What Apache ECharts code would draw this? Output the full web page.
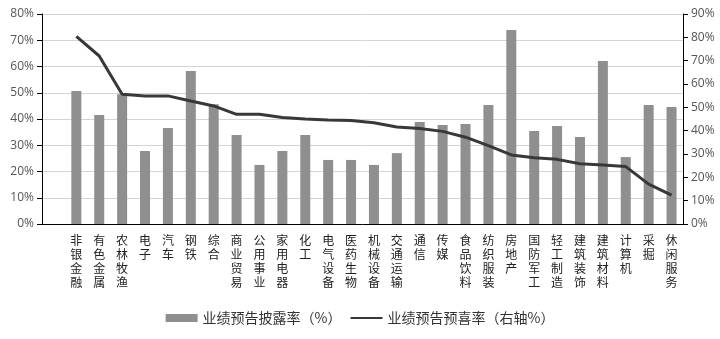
<!DOCTYPE html>
<html>
<head>
<meta charset="utf-8">
<script src="https://cdn.jsdelivr.net/npm/echarts@6/dist/echarts.min.js"></script>
<style>
  html, body { margin: 0; padding: 0; background: #fff; }
  #chart { width: 720px; height: 339px; }
</style>
</head>
<body>
<div id="chart"></div>
<script>
// Industry names (a blank slot leads the axis)
const categories = ['', '非银金融', '有色金属', '农林牧渔', '电子', '汽车', '钢铁', '综合', '商业贸易', '公用事业',
  '家用电器', '化工', '电气设备', '医药生物', '机械设备', '交通运输', '通信', '传媒', '食品饮料',
  '纺织服装', '房地产', '国防军工', '轻工制造', '建筑装饰', '建筑材料', '计算机', '采掘', '休闲服务'];

// 业绩预告披露率 (%), left axis
const disclosureRate = [null, 50.7, 41.5, 49.4, 27.8, 36.6, 58.3, 45.6, 33.9, 22.5,
  27.8, 33.9, 24.4, 24.4, 22.5, 27.0, 38.9, 37.7, 38.1,
  45.3, 73.9, 35.4, 37.3, 33.1, 62.1, 25.5, 45.3, 44.6];

// 业绩预告预喜率 (%), right axis
const positiveRate = [null, 80.4, 72.0, 55.6, 54.9, 54.9, 52.7, 50.6, 47.0, 47.0,
  45.6, 45.0, 44.6, 44.4, 43.4, 41.6, 40.9, 39.7, 37.2,
  33.6, 29.6, 28.4, 27.7, 25.8, 25.3, 24.6, 17.1, 12.4];

const leftTicks = { min: 0, max: 80, interval: 10 };
const rightTicks = { min: 0, max: 90, interval: 10 };

const font = '"Noto Sans CJK SC", "Noto Sans", sans-serif';
const numFont = '"Open Sans", "DejaVu Sans", sans-serif';
const chart = echarts.init(document.getElementById('chart'), null, { renderer: 'canvas' });

chart.setOption({
  animation: false,
  backgroundColor: '#ffffff',
  textStyle: { fontFamily: font },
  grid: { left: 42, right: 37, top: 14, bottom: 115, containLabel: false },
  legend: {
    bottom: 9,
    left: 'center',
    itemGap: 8,
    itemWidth: 32,
    itemHeight: 8,
    textStyle: { fontSize: 14, color: '#333', fontFamily: font },
    data: [
      { name: '业绩预告披露率（%）', icon: 'rect' },
      { name: '业绩预告预喜率（右轴%）', itemStyle: { opacity: 0 } }
    ]
  },
  xAxis: {
    type: 'category',
    data: categories,
    boundaryGap: true,
    axisLine: { show: true, lineStyle: { color: '#000', width: 1 } },
    axisTick: { show: false },
    axisLabel: {
      interval: 0,
      margin: 10,
      fontSize: 12,
      lineHeight: 13.7,
      color: '#222',
      fontFamily: font,
      formatter: v => v.split('').join('\n')
    }
  },
  yAxis: [
    {
      type: 'value',
      min: leftTicks.min, max: leftTicks.max, interval: leftTicks.interval,
      axisLine: { show: true, lineStyle: { color: '#000' } },
      axisTick: { show: true, length: 5, lineStyle: { color: '#000' } },
      axisLabel: { formatter: '{value}%', fontSize: 12, color: '#555', margin: 8, fontFamily: numFont },
      splitLine: { show: true, lineStyle: { color: '#d4d4d4', width: 1 } }
    },
    {
      type: 'value',
      min: rightTicks.min, max: rightTicks.max, interval: rightTicks.interval,
      position: 'right',
      axisLine: { show: true, lineStyle: { color: '#000' } },
      axisTick: { show: true, length: 5, lineStyle: { color: '#000' } },
      axisLabel: { formatter: '{value}%', fontSize: 12, color: '#555', margin: 8, fontFamily: numFont },
      splitLine: { show: false }
    }
  ],
  series: [
    {
      name: '业绩预告披露率（%）',
      type: 'bar',
      yAxisIndex: 0,
      data: disclosureRate,
      barWidth: 10,
      itemStyle: { color: '#8f8f8f' }
    },
    {
      name: '业绩预告预喜率（右轴%）',
      type: 'line',
      yAxisIndex: 1,
      data: positiveRate,
      symbol: 'none',
      smooth: false,
      lineStyle: { color: '#383838', width: 3 },
      itemStyle: { color: '#383838' }
    }
  ]
});
</script>
</body>
</html>
